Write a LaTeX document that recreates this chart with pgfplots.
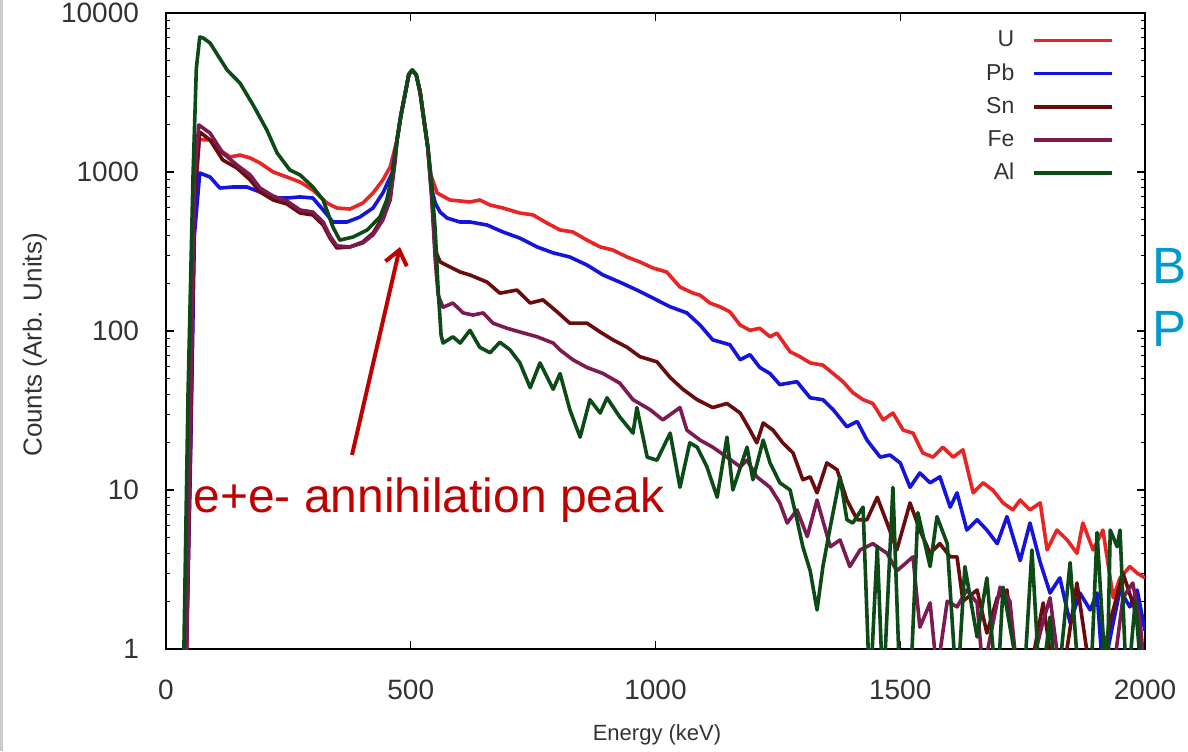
\documentclass[border=0pt]{standalone}
\usepackage{pgfplots}
\pgfplotsset{compat=1.18}
\usepackage{fontspec}
\setmainfont{Liberation Sans}
\usetikzlibrary{arrows.meta}

\definecolor{cU}{HTML}{E82424}
\definecolor{cPb}{HTML}{1414DC}
\definecolor{cSn}{HTML}{6A0C0C}
\definecolor{cFe}{HTML}{7C1A52}
\definecolor{cAl}{HTML}{0C4A16}
\definecolor{txt}{HTML}{333333}
\definecolor{ann}{HTML}{C00000}
\definecolor{slide}{HTML}{0099CC}

\begin{document}
\begin{tikzpicture}
\begin{axis}[
    name=ax, at={(0,0)}, anchor=south west,
    scale only axis, width=489.5pt, height=318pt,
    xmin=0, xmax=2000, ymode=log, ymin=1, ymax=10000,
    xtick={0,500,1000,1500,2000},
    xticklabels={0,500,1000,1500,2000},
    ytick={1,10,100,1000,10000},
    yticklabels={1,10,100,1000,10000},
    minor ytick={2,3,4,5,6,7,8,9,20,30,40,50,60,70,80,90,200,300,400,500,600,700,800,900,2000,3000,4000,5000,6000,7000,8000,9000},
    tick align=inside, major tick length=4pt, minor tick length=2pt,
    axis line style={line width=0.8pt},
    tick style={line width=0.6pt, black},
    /pgf/number format/assume math mode=true,
    ticklabel style={font=\fontsize{14}{16}\selectfont, text=txt},
    xticklabel style={yshift=-12pt},
    yticklabel style={xshift=-10pt},
    legend style={at={(0.975,0.985)}, anchor=north east, draw=none, fill=none,
        font=\fontsize{11.5}{13}\selectfont, text=txt, row sep=3pt},
    legend cell align=right, legend plot pos=right,
    legend image code/.code={\path (0cm,0cm); \draw[#1] (0.25cm,0cm) -- (1.62cm,0cm);},
    every axis plot/.append style={line width=1.8pt, line join=round},
]
% U
\addplot[cU] table {
x y
40 0.5
50 20
58 600
68 1600
90 1590
110 1375
131 1243
151 1279
172 1225
192 1140
219 1000
247 930
274 865
300 771
329 638
349 594
376 585
402 638
423 738
443 891
458 1075
472 1590
480 2280
490 3280
496 4100
503 4375
511 4100
519 3200
527 2120
535 1420
541 958
554 738
580 667
621 648
641 667
662 620
688 594
723 552
750 537
778 478
805 432
831 420
860 373
887 338
913 323
942 292
968 272
995 249
1023 235
1050 189
1077 173
1091 168
1111 150
1132 142
1152 132
1173 109
1193 101
1213 104
1234 92
1248 97
1275 74
1295 69
1316 63
1342 61
1363 54
1383 48
1403 41
1424 37
1444 35
1465 27.6
1485 30.5
1506 23.8
1526 22.8
1546 17.1
1567 16.1
1587 18.6
1608 16.1
1628 17.9
1649 9.6
1669 11.1
1689 10
1710 8.3
1730 7.5
1745 8.65
1765 7.5
1786 8.3
1800 4.2
1820 5.6
1841 4.85
1861 4.0
1873 6.2
1894 4.2
1914 5.6
1935 2.1
1949 2.8
1969 3.3
1984 3.0
2000 2.8
};
\addlegendentry{U}
% Pb
\addplot[cPb] table {
x y
40 0.5
50 15
58 400
69 986
90 930
110 793
137 805
165 805
192 749
219 686
247 686
274 697
300 686
321 577
341 485
370 485
396 521
423 594
443 738
462 986
472 1590
480 2280
490 3280
496 4100
503 4375
511 4100
519 3200
527 2120
535 1420
541 828
550 638
560 560
574 514
600 485
621 485
656 464
688 420
723 384
758 338
791 310
825 292
860 260
893 225
927 203
962 181
995 161
1030 142
1064 130
1091 109
1117 88
1152 82
1173 66
1193 71
1213 59
1234 54
1254 46
1289 48
1316 38
1342 37
1363 32
1391 25
1412 27
1432 20.6
1459 16.1
1479 16.6
1500 14.8
1520 10.4
1540 12.8
1561 11.1
1581 12.1
1602 7.8
1616 9.6
1636 5.6
1657 6.5
1677 5.6
1698 4.6
1718 6.8
1745 3.6
1765 6.2
1786 3.5
1806 2.25
1826 2.8
1847 1.46
1867 2.25
1888 1.76
1902 2.25
1914 0.7
1935 1.46
1949 2.35
1969 1.84
1984 2.35
2000 1.3
};
\addlegendentry{Pb}
% Sn
\addplot[cSn] table {
x y
40 0.5
50 20
58 700
69 1785
90 1590
116 1190
145 1060
172 891
192 749
219 667
247 629
274 552
300 537
321 464
335 384
349 333
376 338
402 363
423 413
443 521
458 696
468 1190
472 1590
480 2280
490 3280
496 4100
503 4375
511 4100
519 3200
527 2120
535 1420
543 717
550 323
560 272
580 253
601 235
621 225
656 203
682 173
717 181
744 150
770 157
799 132
825 112
860 112
887 98.6
913 88
942 79
968 69
1003 64
1030 51
1056 43
1085 37
1117 33
1146 35
1173 30.5
1193 23.8
1207 19.8
1220 26.4
1240 23.8
1260 19.8
1281 17.1
1301 11.6
1316 12.1
1330 9.6
1350 14.8
1371 13.4
1391 8.65
1412 6.5
1432 6.5
1453 9.0
1473 6.2
1493 4.2
1520 8.3
1540 5.6
1561 4.0
1581 4.6
1602 3.8
1616 3.8
1628 2.0
1657 2.35
1677 1.26
1698 2.1
1718 2.35
1739 0.7
1765 0.7
1792 1.95
1812 0.7
1833 0.7
1861 2.6
1888 0.7
1908 0.7
1929 1.5
1955 3.0
1984 1.6
1996 0.7
};
\addlegendentry{Sn}
% Fe
\addplot[cFe] table {
x y
40 0.5
50 25
58 900
67 1977
90 1759
116 1316
145 1107
172 958
192 793
219 706
247 657
274 577
300 560
321 485
335 396
349 343
376 338
402 358
423 402
443 499
458 667
468 1170
472 1590
480 2280
490 3280
496 4100
503 4375
511 4100
519 3200
527 2120
535 1420
543 667
550 280
556 168
566 141
586 150
607 130
627 126
648 130
668 112
697 104
723 98.6
758 92
791 84
805 76
831 66
860 59
893 54
927 47
954 37
989 32
1015 27.6
1050 33
1064 23.8
1091 20.6
1117 18.6
1146 16.1
1173 14.0
1187 15.4
1207 12.1
1234 10.4
1254 8.3
1269 6.2
1289 7.5
1310 5.1
1330 8.65
1357 4.4
1377 4.85
1397 3.3
1418 4.2
1444 4.6
1473 4.0
1493 3.1
1526 3.8
1540 1.37
1561 1.95
1575 0.7
1596 2.0
1616 1.84
1636 2.35
1657 1.95
1669 0.7
1704 2.45
1724 2.0
1739 0.7
1765 0.7
1792 1.5
1806 2.1
1826 0.7
1902 0.7
1922 1.19
1935 0.7
1955 2.1
1975 2.6
1990 1.46
2000 0.7
};
\addlegendentry{Fe}
% Al
\addplot[cAl] table {
x y
35 0.5
45 40
55 900
62 4500
69 7070
76 6965
90 6475
125 4375
151 3630
178 2640
206 1837
227 1316
253 1030
274 958
300 805
321 667
341 451
355 373
382 390
411 432
437 521
451 667
464 1030
472 1590
480 2280
490 3280
496 4100
503 4375
511 4100
519 3200
527 2120
535 1420
543 828
550 432
556 181
562 94
566 84
586 92
601 84
621 101
641 79
662 73
682 85
703 76
723 63
744 44
764 63
791 43
805 54
825 32
846 21.5
866 37
887 30.5
901 38
927 28.8
954 22.8
962 33
983 16.1
1003 15.4
1030 22.8
1050 10.4
1070 19.8
1085 18.6
1105 14.0
1126 9.0
1146 21.5
1158 10
1187 18.6
1199 11.6
1220 20.6
1234 14.8
1254 11.1
1275 10
1289 6.5
1301 4.4
1316 3.1
1330 1.76
1342 3.3
1357 5.85
1377 12.1
1391 6.5
1403 6.2
1424 7.8
1438 0.5
1453 4.4
1465 0.5
1485 10.4
1500 0.5
1520 0.5
1536 7.2
1561 3.3
1575 6.8
1596 4.6
1616 0.5
1632 3.3
1657 1.19
1677 2.8
1698 0.5
1710 2.45
1730 1.09
1751 0.5
1769 4.2
1786 0.5
1806 1.59
1820 0.5
1847 3.5
1867 0.5
1888 0.5
1902 5.4
1922 0.5
1929 5.6
1943 4.4
1949 5.6
1963 0.5
1980 2.0
1996 0.5
};
\addlegendentry{Al}
\end{axis}
% annotations in pixel units of the 1188x751 frame
\begin{scope}[shift={(-83pt,324.5pt)}, x=0.5pt, y=-0.5pt]
  \fill[black!20] (0,0) rectangle (3,751);
  \node[text=txt, font=\fontsize{11}{13}\selectfont] at (657,735) {Energy (keV)};
  \node[text=txt, rotate=90, font=\fontsize{13}{15}\selectfont] at (35,345) {Counts (Arb. Units)};
  \draw[ann, line width=2pt, -{Straight Barb[length=7pt,width=11pt,line width=2pt]}] (352,455) -- (400,247);
  \node[ann, anchor=base west, inner sep=0pt, font=\fontsize{24}{28}\selectfont] at (193,512) {e+e- annihilation peak};
  \node[slide, anchor=base west, inner sep=0pt, font=\fontsize{25.5}{30}\selectfont] at (1152,283) {B};
  \node[slide, anchor=base west, inner sep=0pt, font=\fontsize{25.5}{30}\selectfont] at (1152,346) {P};
  \pgfresetboundingbox
  \path[use as bounding box] (0,0) rectangle (1188,751);
\end{scope}
\end{tikzpicture}
\end{document}
